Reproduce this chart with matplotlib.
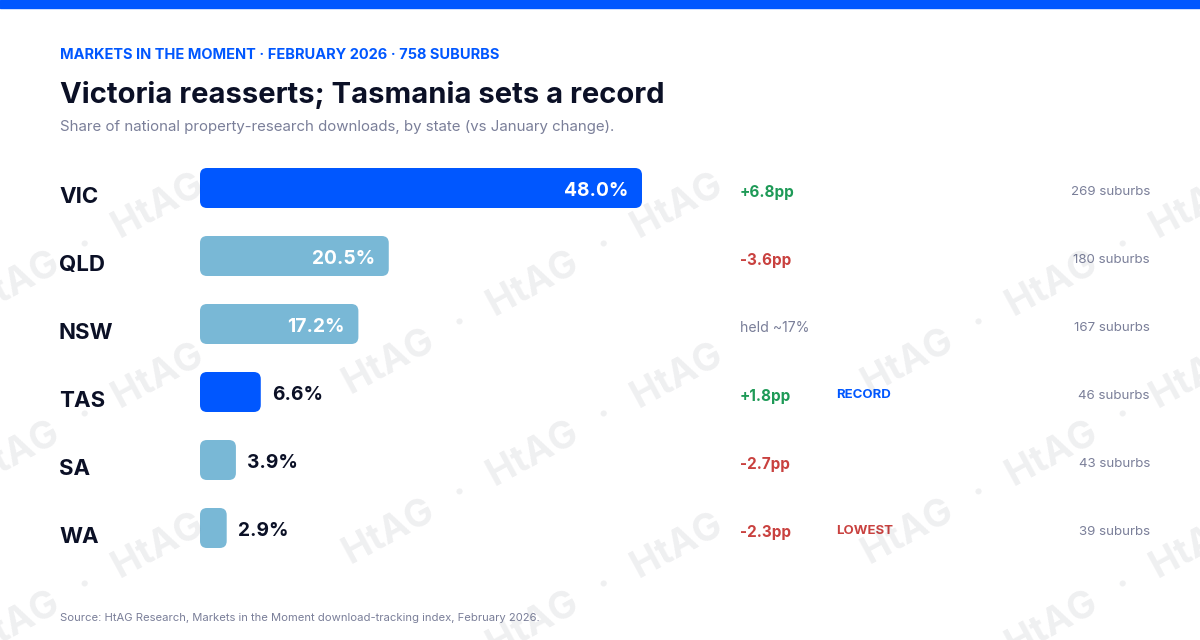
import matplotlib
matplotlib.use('Agg')
import matplotlib.pyplot as plt
from matplotlib.patches import FancyBboxPatch, Rectangle
from matplotlib import transforms

plt.rcParams['font.family'] = ['Inter', 'DejaVu Sans']

# data
states = ['VIC', 'QLD', 'NSW', 'TAS', 'SA', 'WA']
share = [48.0, 20.5, 17.2, 6.6, 3.9, 2.9]
change = ['+6.8pp', '-3.6pp', 'held ~17%', '+1.8pp', '-2.7pp', '-2.3pp']
tags = ['', '', '', 'RECORD', '', 'LOWEST']
suburbs = [269, 180, 167, 46, 43, 39]
highlight = [True, False, False, True, False, False]

BLUE = '#0057FF'
LIGHT = '#79B8D6'
INK = '#0B1026'
GREY = '#7A7F99'
GREEN = '#1E9A57'
RED = '#C9413F'

W, H = 1200, 640
fig = plt.figure(figsize=(12, 6.4), dpi=100)
fig.patch.set_facecolor('white')

def fx(px):
    return px / W

def fy(py):
    return 1 - py / H

# top band
fig.patches.append(Rectangle((0, fy(8)), 1, 8 / H, transform=fig.transFigure,
                             color=BLUE, zorder=0))

fig.text(fx(60), fy(59), 'MARKETS IN THE MOMENT · FEBRUARY 2026 · 758 SUBURBS',
         color=BLUE, fontsize=10.5, fontweight='bold', va='baseline')
fig.text(fx(60), fy(103), 'Victoria reasserts; Tasmania sets a record',
         color=INK, fontsize=21.0, fontweight='bold', va='baseline')
fig.text(fx(60), fy(131), 'Share of national property-research downloads, by state (vs January change).',
         color=GREY, fontsize=10.8, va='baseline')
fig.text(fx(60), fy(621), 'Source: HtAG Research, Markets in the Moment download-tracking index, February 2026.',
         color=GREY, fontsize=8.1, va='baseline')

# bar area: rows 68px apart, first row centred at y=188
px_per_pct = 442 / 48.0
ax = fig.add_axes([fx(200), fy(562), fx(950), 408 / H])
ax.set_xlim(0, 950 / px_per_pct)
ax.set_ylim(len(states) - 0.5, -0.5)
ax.axis('off')

bar_h = 40 / 68
r_px = 7
r_x = r_px / px_per_pct
aspect = (r_px / 68) / r_x
rows = range(len(states))
for i in rows:
    c = BLUE if highlight[i] else LIGHT
    ax.add_patch(FancyBboxPatch((0, i - bar_h / 2), share[i], bar_h,
                                boxstyle=f'round,pad=0,rounding_size={r_x}',
                                mutation_aspect=aspect, fc=c, ec='none', zorder=2))

left = transforms.blended_transform_factory(fig.transFigure, ax.transData)

def shifted(t, dx=0, dy=0):
    return transforms.offset_copy(t, fig=fig, x=dx, y=dy, units='dots')

for i in rows:
    ax.text(fx(59), i, states[i], transform=shifted(left, dy=-15), color=INK,
            fontsize=16, fontweight='bold', va='baseline', ha='left')
    label = f'{share[i]:.1f}%'
    if share[i] > 10:
        ax.text(share[i], i, label, transform=shifted(ax.transData, dx=-14, dy=-8),
                color='white', fontsize=13.8, fontweight='bold', ha='right', va='baseline', zorder=4)
    else:
        ax.text(share[i], i, label, transform=shifted(ax.transData, dx=11, dy=-8),
                color=INK, fontsize=13.8, fontweight='bold', ha='left', va='baseline', zorder=4)
    ch = change[i]
    if ch.startswith('+'):
        ax.text(fx(740), i, ch, transform=shifted(left, dy=-9), color=GREEN,
                fontsize=11, fontweight='bold', va='baseline')
    elif ch.startswith('-'):
        ax.text(fx(740), i, ch, transform=shifted(left, dy=-9), color=RED,
                fontsize=11, fontweight='bold', va='baseline')
    else:
        ax.text(fx(740), i, ch, transform=shifted(left, dy=-8), color=GREY,
                fontsize=10.2, va='baseline')
    if tags[i]:
        ax.text(fx(836), i, tags[i], transform=shifted(left, dy=-6),
                color=BLUE if tags[i] == 'RECORD' else RED,
                fontsize=9.5, fontweight='bold', va='baseline')
    ax.text(fx(1150), i, f'{suburbs[i]} suburbs', transform=shifted(left, dy=-7),
            color=GREY, fontsize=9.6, ha='right', va='baseline')

# watermark
for gx in [14, 533, 1052]:
    for gy in [285, 455, 625]:
        fig.text(fx(gx), fy(gy), 'HtAG   ·   HtAG   ·   HtAG', rotation=28.4,
                 rotation_mode='anchor', ha='center', va='center',
                 fontsize=27, fontweight='bold', color=INK, alpha=0.065, zorder=3)

fig.savefig('out.png', dpi=100)
